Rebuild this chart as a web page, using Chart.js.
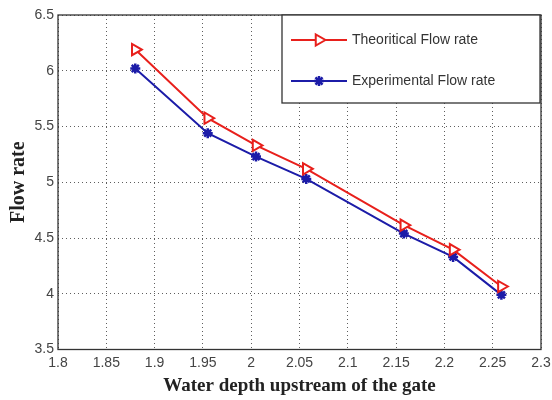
<!DOCTYPE html>
<html><head><meta charset="utf-8">
<script src="https://cdn.jsdelivr.net/npm/chart.js@4/dist/chart.umd.min.js"></script>
<style>html,body{margin:0;padding:0;background:#fff}#wrap{width:552px;height:400px}</style>
</head><body><div id="wrap"><canvas id="c" width="552" height="400"></canvas></div>
<script>
const depth = [1.88, 1.955, 2.005, 2.057, 2.158, 2.209, 2.259];
const theoretical = [6.19, 5.575, 5.33, 5.12, 4.615, 4.395, 4.065];
const experimental = [6.02, 5.44, 5.23, 5.03, 4.54, 4.33, 3.99];
const seriesNames = ['Theoritical Flow rate', 'Experimental Flow rate'];
const xTitle = 'Water depth upstream of the gate';
const yTitle = 'Flow rate';

const RED = '#e8201c', BLUE = '#1c1ca8';
const fmt = v => String(+(+v).toFixed(2));

const frame = {
  id: 'frame',
  afterDatasetsDraw(chart) {
    const {ctx, chartArea: a} = chart;
    ctx.save();
    ctx.strokeStyle = '#333'; ctx.lineWidth = 1.3; ctx.setLineDash([]);
    ctx.strokeRect(a.left, a.top, a.right - a.left, a.bottom - a.top);
    ctx.restore();
  },
  afterDraw(chart) {
    const ctx = chart.ctx;
    const bx = 282, by = 15, bw = 258, bh = 88;
    ctx.save();
    ctx.fillStyle = '#fff';
    ctx.fillRect(bx, by, bw, bh);
    ctx.setLineDash([]);
    ctx.strokeStyle = '#333'; ctx.lineWidth = 1.3;
    ctx.strokeRect(bx, by, bw, bh);
    const rows = [40, 81];
    chart.data.datasets.forEach((ds, i) => {
      const y = rows[i];
      ctx.strokeStyle = ds.borderColor; ctx.lineWidth = 2;
      ctx.beginPath(); ctx.moveTo(291, y); ctx.lineTo(347, y); ctx.stroke();
      ctx.fillStyle = ds.pointBackgroundColor;
      ctx.strokeStyle = ds.pointBorderColor;
      ctx.lineWidth = ds.pointBorderWidth;
      Chart.helpers.drawPoint(ctx, {
        pointStyle: ds.pointStyle, rotation: ds.pointRotation || 0,
        radius: ds.pointRadius, borderWidth: ds.pointBorderWidth
      }, 319, y);
      ctx.fillStyle = '#333';
      ctx.font = '14px "Liberation Sans", Arial, sans-serif';
      ctx.textBaseline = 'middle'; ctx.textAlign = 'left';
      ctx.fillText(ds.label, 352, y);
    });
    ctx.restore();
  }
};

new Chart(document.getElementById('c'), {
  type: 'line',
  data: {
    datasets: [
      {
        label: seriesNames[0],
        data: depth.map((x, i) => ({x, y: theoretical[i]})),
        borderColor: RED, borderWidth: 2,
        pointStyle: 'triangle', pointRotation: 90, pointRadius: 6.5,
        pointBackgroundColor: '#ffffff', pointBorderColor: RED, pointBorderWidth: 2,
        tension: 0
      },
      {
        label: seriesNames[1],
        data: depth.map((x, i) => ({x, y: experimental[i]})),
        borderColor: BLUE, borderWidth: 2,
        pointStyle: 'star', pointRadius: 5,
        pointBackgroundColor: BLUE, pointBorderColor: BLUE, pointBorderWidth: 2.5,
        tension: 0
      }
    ]
  },
  options: {
    responsive: false, animation: false,
    layout: {padding: {top: 15, right: 11, left: 0, bottom: 0}},
    plugins: {legend: {display: false}, tooltip: {enabled: false}},
    scales: {
      x: {
        type: 'linear', min: 1.8, max: 2.3,
        afterFit: s => { s.height = 50.5; s.paddingLeft = 0; s.paddingRight = 0; },
        ticks: {stepSize: 0.05, callback: fmt, padding: 5, maxRotation: 0, autoSkip: false,
          color: '#444', font: {family: '"Liberation Sans", Arial, sans-serif', size: 14}},
        grid: {color: 'rgba(40,40,40,0.75)', lineWidth: 1, drawTicks: false},
        border: {display: false, dash: [1, 3]},
        title: {display: true, text: xTitle, color: '#222', padding: {top: 0, bottom: 3},
          font: {family: '"Liberation Serif", "Times New Roman", serif', size: 19, weight: 'bold'}}
      },
      y: {
        type: 'linear', min: 3.5, max: 6.5,
        afterFit: s => { s.width = 58; s.paddingTop = 0; s.paddingBottom = 0; },
        ticks: {stepSize: 0.5, callback: fmt, padding: 4,
          color: '#444', font: {family: '"Liberation Sans", Arial, sans-serif', size: 14}},
        grid: {color: 'rgba(40,40,40,0.75)', lineWidth: 1, drawTicks: false},
        border: {display: false, dash: [1, 3]},
        title: {display: true, text: yTitle, color: '#222', padding: {top: 7, bottom: 0},
          font: {family: '"Liberation Serif", "Times New Roman", serif', size: 20, weight: 'bold'}}
      }
    }
  },
  plugins: [frame]
});
</script>
</body></html>
